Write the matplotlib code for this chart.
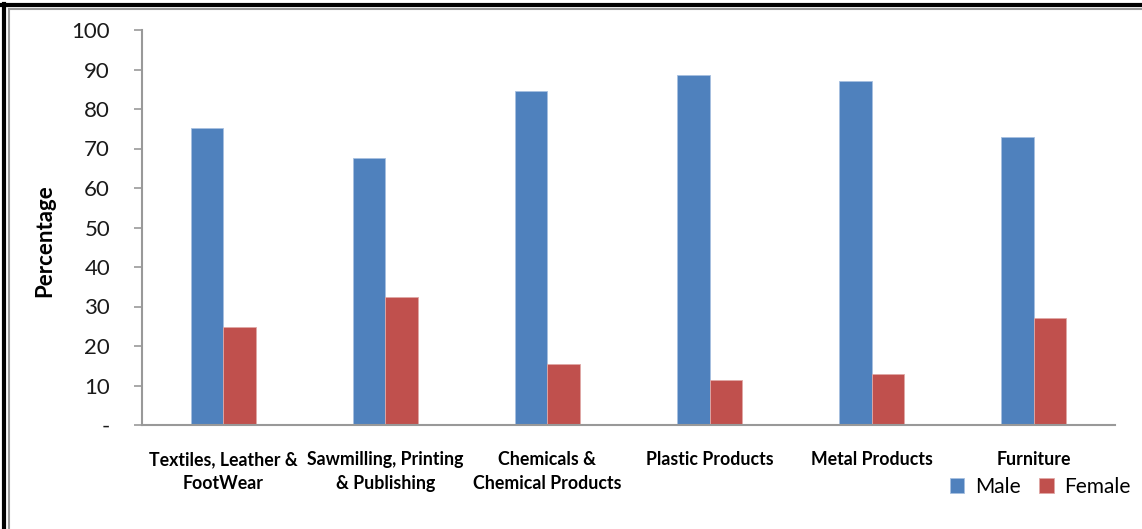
import matplotlib.pyplot as plt
from matplotlib.lines import Line2D
import numpy as np

plt.rcParams["font.family"] = ["Lato", "DejaVu Sans"]

categories = [
    "Textiles, Leather &\nFootWear",
    "Sawmilling, Printing\n& Publishing",
    "Chemicals &\nChemical Products",
    "Plastic Products",
    "Metal Products",
    "Furniture",
]
male = [75.1, 67.5, 84.5, 88.6, 87.2, 72.9]
female = [24.9, 32.5, 15.5, 11.4, 12.8, 27.1]
yticks = [0, 10, 20, 30, 40, 50, 60, 70, 80, 90, 100]
ytick_labels = ["-", "10", "20", "30", "40", "50", "60", "70", "80", "90", "100"]

blue = "#4F81BD"
red = "#C0504D"

fig = plt.figure(figsize=(11.42, 5.29), dpi=100)
ax = fig.add_axes([142 / 1142, 1 - 425 / 529, (1115 - 142) / 1142, (425 - 30) / 529])

x = np.arange(len(categories))
w = 0.2
ax.bar(x - w / 2, male, w, color=blue, edgecolor="#A7C0E0", linewidth=0.6, label="Male")
ax.bar(x + w / 2, female, w, color=red, edgecolor="#E0A8A6", linewidth=0.6, label="Female")

ax.set_xlim(-0.5, len(categories) - 0.5)
ax.set_ylim(0, 100)
ax.set_yticks(yticks)
ax.set_yticklabels(ytick_labels, fontsize=16, color="#1a1a1a")
ax.tick_params(axis="y", length=6, width=1.2, color="#999999", pad=17)
ax.set_xticks(x)
ax.set_xticklabels(categories, fontsize=12.8, fontweight="bold", linespacing=1.45)
ax.tick_params(axis="x", length=0, pad=19)

for s in ["top", "right"]:
    ax.spines[s].set_visible(False)
for s in ["left", "bottom"]:
    ax.spines[s].set_color("#999999")
    ax.spines[s].set_linewidth(1.5)

fig.text(45 / 1142, 1 - 241 / 529, "Percentage", rotation=90, fontsize=16,
         fontweight="bold", ha="center", va="center")

fig.legend(loc="center right", bbox_to_anchor=(1141 / 1142, 1 - 487 / 529),
           ncol=2, frameon=False, fontsize=15, handlelength=0.7, handleheight=0.7,
           handletextpad=0.5, columnspacing=0.9, borderpad=0)

# frame around the chart (outer black, inner gray)
fig.add_artist(Line2D([4 / 1142, 4 / 1142], [0, 1 - 4 / 529], transform=fig.transFigure,
                      color="black", linewidth=3))
fig.add_artist(Line2D([0, 1], [1 - 5 / 529, 1 - 5 / 529], transform=fig.transFigure,
                      color="black", linewidth=3))
fig.add_artist(Line2D([9 / 1142, 9 / 1142], [0, 1 - 9 / 529], transform=fig.transFigure,
                      color="#999999", linewidth=1.5))
fig.add_artist(Line2D([9 / 1142, 1], [1 - 9 / 529, 1 - 9 / 529], transform=fig.transFigure,
                      color="#999999", linewidth=1.5))

fig.savefig("out.png", dpi=100)
